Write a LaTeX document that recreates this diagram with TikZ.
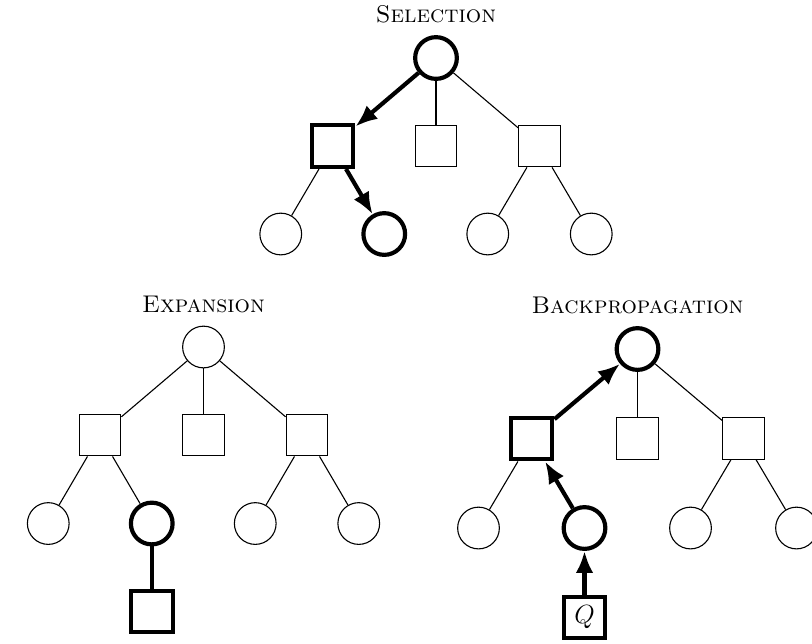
\documentclass[tikz,border=0pt]{standalone}
\usepackage{tikz}
\usetikzlibrary{arrows.meta,positioning}

\begin{document}
\begin{tikzpicture}[x=0.016cm,y=-0.016cm,>={Latex[length=10pt,width=8pt]}]
\tikzstyle{statenode}=[draw,circle,minimum size=19pt,inner sep=0pt,line width=0.5pt]
\tikzstyle{actionnode}=[draw,rectangle,minimum size=19pt,inner sep=0pt,line width=0.5pt]
\tikzstyle{hot}=[line width=1.9pt]
\tikzstyle{treeedge}=[line width=0.5pt]
\tikzstyle{phase}=[font=\fontsize{11}{13}\selectfont\scshape,anchor=base,inner sep=0pt]
\useasboundingbox (0,0) rectangle (812,643);
% selection
\node[phase] (sel-title) at (436,22) {Selection};
\node[statenode,hot] (sel-root) at (436,58) {};
\node[actionnode,hot] (sel-l) at (332.5,146) {};
\node[actionnode] (sel-m) at (436,146) {};
\node[actionnode] (sel-r) at (539.5,146) {};
\node[statenode] (sel-ll) at (280.75,234) {};
\node[statenode,hot] (sel-lr) at (384.25,234) {};
\node[statenode] (sel-rl) at (487.75,234) {};
\node[statenode] (sel-rr) at (591.25,234) {};
\draw[treeedge] (sel-root) -- (sel-m);
\draw[treeedge] (sel-root) -- (sel-r);
\draw[treeedge] (sel-l) -- (sel-ll);
\draw[treeedge] (sel-r) -- (sel-rl);
\draw[treeedge] (sel-r) -- (sel-rr);
\draw[hot,->] (sel-root) -- (sel-l);
\draw[hot,->] (sel-l) -- (sel-lr);
% expansion
\node[phase] (exp-title) at (203.5,312) {Expansion};
\node[statenode] (exp-root) at (203.5,347) {};
\node[actionnode] (exp-l) at (100,435) {};
\node[actionnode] (exp-m) at (203.5,435) {};
\node[actionnode] (exp-r) at (307,435) {};
\node[statenode] (exp-ll) at (48.25,523.5) {};
\node[statenode,hot] (exp-lr) at (151.75,523.5) {};
\node[statenode] (exp-rl) at (255.25,523.5) {};
\node[statenode] (exp-rr) at (358.75,523.5) {};
\node[actionnode,hot] (exp-new) at (151.75,611.5) {};
\draw[treeedge] (exp-root) -- (exp-l);
\draw[treeedge] (exp-root) -- (exp-m);
\draw[treeedge] (exp-root) -- (exp-r);
\draw[treeedge] (exp-l) -- (exp-ll);
\draw[treeedge] (exp-l) -- (exp-lr);
\draw[treeedge] (exp-r) -- (exp-rl);
\draw[treeedge] (exp-r) -- (exp-rr);
\draw[hot] (exp-lr) -- (exp-new);
% backpropagation
\node[phase] (bp-title) at (637.5,313) {Backpropagation};
\node[statenode,hot] (bp-root) at (637.5,349) {};
\node[actionnode,hot] (bp-l) at (531.5,438.5) {};
\node[actionnode] (bp-m) at (637.5,438.5) {};
\node[actionnode] (bp-r) at (743.5,438.5) {};
\node[statenode] (bp-ll) at (478.5,528) {};
\node[statenode,hot] (bp-lr) at (584.5,528) {};
\node[statenode] (bp-rl) at (690.5,528) {};
\node[statenode] (bp-rr) at (796.5,528) {};
\node[actionnode,hot,font=\large] (bp-q) at (584.5,617.5) {$Q$};
\draw[treeedge] (bp-root) -- (bp-m);
\draw[treeedge] (bp-root) -- (bp-r);
\draw[treeedge] (bp-l) -- (bp-ll);
\draw[treeedge] (bp-r) -- (bp-rl);
\draw[treeedge] (bp-r) -- (bp-rr);
\draw[hot,->] (bp-q) -- (bp-lr);
\draw[hot,->] (bp-lr) -- (bp-l);
\draw[hot,->] (bp-l) -- (bp-root);
\end{tikzpicture}
\end{document}
